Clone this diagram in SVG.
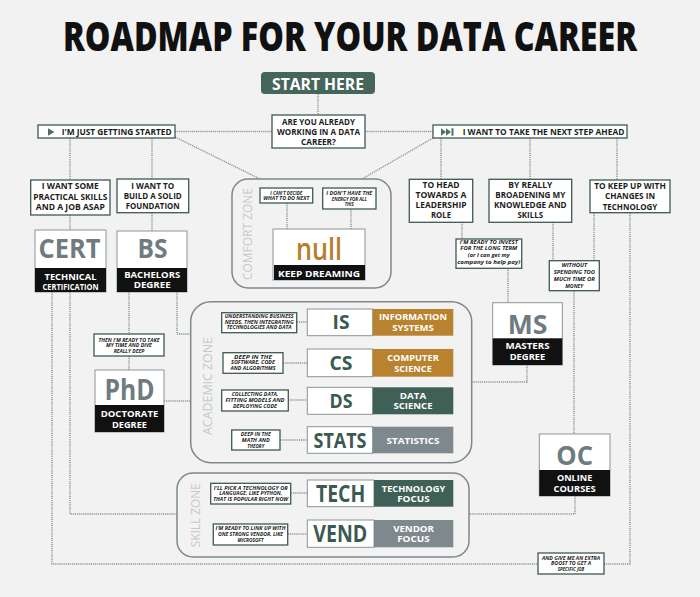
<svg xmlns="http://www.w3.org/2000/svg" width="700" height="597" viewBox="0 0 700 597">
<style>
.bg{fill:#f2f2f2}
.bx{fill:#fff;stroke:#3f5852;stroke-width:1.3}
.cb{fill:#fff;stroke:#8a9499;stroke-width:1}
.bar{fill:#111}
.t{font-family:"Open Sans","Liberation Sans",sans-serif;font-weight:700;font-size:9.5px;fill:#1c1c1c;text-anchor:middle}
.s{font-style:italic;font-size:5.5px}
.w{fill:#fff;font-size:9px}
.big{font-size:26px;fill:#6e7b81}
.acr{font-size:20px;fill:#3b5a52}
.ln{fill:none;stroke:#8d959a;stroke-width:1.4;stroke-dasharray:1.2 0.9}
.zone{fill:none;stroke:#7d888d;stroke-width:1.5}
.zt{font-family:"Open Sans","Liberation Sans",sans-serif;font-weight:400;font-size:12px;fill:#c6c9ca;text-anchor:middle}
.or{fill:#b9822e}.gr{fill:#3f6056}.gy{fill:#7e898e}
</style>
<rect class="bg" x="0" y="0" width="700" height="597"/>
<text class="t" x="350" y="51" style="font-size:40px;font-weight:800;fill:#111" textLength="574" lengthAdjust="spacingAndGlyphs">ROADMAP FOR YOUR DATA CAREER</text>

<g id="connectors">
<path class="ln" d="M318 94V115"/>
<path class="ln" d="M175 131.5H272"/>
<path class="ln" d="M365 131.5H433"/>
<path class="ln" d="M175 137L260 179"/>
<path class="ln" d="M433 138L362 179"/>
<path class="ln" d="M70 138V180"/>
<path class="ln" d="M152 138V179"/>
<path class="ln" d="M70 215V230"/>
<path class="ln" d="M152 213V231"/>
<path class="ln" d="M52 292V564H538"/>
<path class="ln" d="M70 292V514H177"/>
<path class="ln" d="M129 292V334"/>
<path class="ln" d="M129 356V370"/>
<path class="ln" d="M177 292V334H191"/>
<path class="ln" d="M164 401H191"/>
<path class="ln" d="M287 203V229"/>
<path class="ln" d="M351 209V229"/>
<path class="ln" d="M441 138V179"/>
<path class="ln" d="M530 138V179"/>
<path class="ln" d="M617 138V180"/>
<path class="ln" d="M462 222V239"/>
<path class="ln" d="M508 268V303"/>
<path class="ln" d="M527 365V382H472"/>
<path class="ln" d="M553 222V261"/>
<path class="ln" d="M594 213V261"/>
<path class="ln" d="M574 291V434"/>
<path class="ln" d="M630 213V564H604"/>
<path class="ln" d="M575 496V514H469"/>
<path class="ln" d="M297 322H307"/>
<path class="ln" d="M283 363H307"/>
<path class="ln" d="M288 400H307"/>
<path class="ln" d="M280 440H307"/>
<path class="ln" d="M291 493H307"/>
<path class="ln" d="M288 534H307"/>
</g>

<g id="start">
<rect x="261" y="72" width="114" height="22" rx="4" fill="#46655b"/>
<text class="t" x="318" y="89.5" style="font-size:16px;fill:#fff" textLength="92" lengthAdjust="spacingAndGlyphs">START HERE</text>
</g>
<g id="question">
<rect class="bx" x="272" y="115" width="93" height="33"/>
<text class="t" x="318.5" y="125.1" textLength="73" lengthAdjust="spacingAndGlyphs">ARE YOU ALREADY</text>
<text class="t" x="318.5" y="135.1" textLength="83" lengthAdjust="spacingAndGlyphs">WORKING IN A DATA</text>
<text class="t" x="318.5" y="145.1" textLength="35" lengthAdjust="spacingAndGlyphs">CAREER?</text>
</g>
<g id="started">
<rect class="bx" x="38" y="125" width="137" height="13"/>
<polygon points="48,128.3 54.5,132 48,135.7" fill="#4f6f65"/>
<text class="t" x="116.7" y="135.2" textLength="110" lengthAdjust="spacingAndGlyphs">I'M JUST GETTING STARTED</text>
</g>
<g id="nextstep">
<rect class="bx" x="433" y="125" width="194" height="13"/>
<polygon points="441,128.3 446,132 441,135.7" fill="#4f6f65"/>
<polygon points="446,128.3 451,132 446,135.7" fill="#4f6f65"/>
<rect x="451.5" y="128.3" width="2" height="7.4" fill="#4f6f65"/>
<text class="t" x="543.5" y="135.2" textLength="161.7" lengthAdjust="spacingAndGlyphs">I WANT TO TAKE THE NEXT STEP AHEAD</text>
</g>
<g id="practical">
<rect class="bx" x="30.7" y="180" width="79.3" height="35"/>
<text class="t" x="70.3" y="189.4" textLength="57" lengthAdjust="spacingAndGlyphs">I WANT SOME</text>
<text class="t" x="70.3" y="200" textLength="74" lengthAdjust="spacingAndGlyphs">PRACTICAL SKILLS</text>
<text class="t" x="70.3" y="210" textLength="69" lengthAdjust="spacingAndGlyphs">AND A JOB ASAP</text>
</g>
<g id="foundation">
<rect class="bx" x="117" y="179" width="71.7" height="33.7"/>
<text class="t" x="152.7" y="189.4" textLength="43" lengthAdjust="spacingAndGlyphs">I WANT TO</text>
<text class="t" x="152.7" y="199.4" textLength="58" lengthAdjust="spacingAndGlyphs">BUILD A SOLID</text>
<text class="t" x="152.7" y="209.4" textLength="54" lengthAdjust="spacingAndGlyphs">FOUNDATION</text>
</g>
<g id="cert">
<rect class="cb" x="35" y="230" width="71" height="62"/>
<rect class="bar" x="35" y="268" width="71" height="24"/>
<text class="t big" x="69.5" y="258" textLength="62" lengthAdjust="spacingAndGlyphs">CERT</text>
<text class="t w" x="70.5" y="280" textLength="52" lengthAdjust="spacingAndGlyphs">TECHNICAL</text>
<text class="t w" x="70.5" y="289.5" style="font-size:8px" textLength="56" lengthAdjust="spacingAndGlyphs">CERTIFICATION</text>
</g>
<g id="bs">
<rect class="cb" x="117" y="231" width="70" height="61"/>
<rect class="bar" x="117" y="268" width="70" height="24"/>
<text class="t big" x="152.5" y="258" textLength="30" lengthAdjust="spacingAndGlyphs">BS</text>
<text class="t w" x="152.2" y="277.5" textLength="56" lengthAdjust="spacingAndGlyphs">BACHELORS</text>
<text class="t w" x="152.2" y="288.2" textLength="37" lengthAdjust="spacingAndGlyphs">DEGREE</text>
</g>
<g id="comfortzone">
<rect class="zone" x="232" y="179" width="159" height="109" rx="16"/>
<text class="zt" transform="translate(252,234) rotate(-90)" textLength="92" lengthAdjust="spacingAndGlyphs">COMFORT ZONE</text>
</g>
<g id="cantdecide">
<rect class="bx" x="260" y="188" width="52.7" height="15"/>
<text class="t s" x="286.3" y="194.7" textLength="32" lengthAdjust="spacingAndGlyphs">I CAN'T DECIDE</text>
<text class="t s" x="286.3" y="199.9" textLength="46" lengthAdjust="spacingAndGlyphs">WHAT TO DO NEXT</text>
</g>
<g id="noenergy">
<rect class="bx" x="322.7" y="188" width="53.3" height="21"/>
<text class="t s" x="349.3" y="195.2" textLength="46" lengthAdjust="spacingAndGlyphs">I DON'T HAVE THE</text>
<text class="t s" x="349.3" y="200.5" textLength="35" lengthAdjust="spacingAndGlyphs">ENERGY FOR ALL</text>
<text class="t s" x="349.3" y="206" textLength="9" lengthAdjust="spacingAndGlyphs">THIS</text>
</g>
<g id="null">
<rect class="cb" x="273" y="229" width="92" height="51"/>
<rect class="bar" x="274" y="265" width="91" height="15"/>
<text class="t" x="319" y="260" style="font-size:30px;font-weight:600;fill:#b67d2b" textLength="46" lengthAdjust="spacingAndGlyphs">null</text>
<text class="t w" x="319" y="276.7" style="font-size:9.5px" textLength="82" lengthAdjust="spacingAndGlyphs">KEEP DREAMING</text>
</g>
<g id="thendeep">
<rect class="bx" x="94" y="334" width="70" height="22"/>
<text class="t s" x="129" y="342" textLength="61" lengthAdjust="spacingAndGlyphs">THEN I'M READY TO TAKE</text>
<text class="t s" x="129" y="347.4" textLength="46" lengthAdjust="spacingAndGlyphs">MY TIME AND DIVE</text>
<text class="t s" x="129" y="353" textLength="30.7" lengthAdjust="spacingAndGlyphs">REALLY DEEP</text>
</g>
<g id="phd">
<rect class="cb" x="95" y="370" width="69" height="62"/>
<rect class="bar" x="95" y="405" width="69" height="27"/>
<text class="t big" x="129.5" y="400" style="font-size:28px" textLength="50" lengthAdjust="spacingAndGlyphs">PhD</text>
<text class="t w" x="129.5" y="416.5" textLength="57.7" lengthAdjust="spacingAndGlyphs">DOCTORATE</text>
<text class="t w" x="129.5" y="427.5" textLength="35" lengthAdjust="spacingAndGlyphs">DEGREE</text>
</g>
<g id="academiczone">
<rect class="zone" x="190.7" y="301.7" width="281" height="161" rx="20"/>
<text class="zt" transform="translate(211.5,386) rotate(-90)" textLength="98" lengthAdjust="spacingAndGlyphs">ACADEMIC ZONE</text>
</g>
<g id="is">
<rect class="bx" x="221.7" y="312.7" width="75" height="20"/>
<text class="t s" x="259.2" y="318" textLength="69" lengthAdjust="spacingAndGlyphs">UNDERSTANDING BUSINESS</text>
<text class="t s" x="259.2" y="323.7" textLength="69" lengthAdjust="spacingAndGlyphs">NEEDS, THEN INTEGRATING</text>
<text class="t s" x="259.2" y="329.3" textLength="65" lengthAdjust="spacingAndGlyphs">TECHNOLOGIES AND DATA</text>
<rect class="cb" x="307.3" y="309" width="65.4" height="26.7"/>
<rect class="or" x="372.7" y="309" width="80.6" height="26.7"/>
<text class="t acr" x="341" y="329.3" textLength="17" lengthAdjust="spacingAndGlyphs">IS</text>
<text class="t w" x="413" y="319.9" textLength="68" lengthAdjust="spacingAndGlyphs">INFORMATION</text>
<text class="t w" x="413" y="330.9" textLength="41.7" lengthAdjust="spacingAndGlyphs">SYSTEMS</text>
</g>
<g id="cs">
<rect class="bx" x="223" y="352.7" width="60" height="20.6"/>
<text class="t s" x="253" y="358.7" textLength="38" lengthAdjust="spacingAndGlyphs">DEEP IN THE</text>
<text class="t s" x="253" y="364.3" textLength="44" lengthAdjust="spacingAndGlyphs">SOFTWARE, CODE</text>
<text class="t s" x="253" y="370" textLength="45" lengthAdjust="spacingAndGlyphs">AND ALGORITHMS</text>
<rect class="cb" x="307.3" y="349" width="65.4" height="27.7"/>
<rect class="or" x="372.7" y="349" width="80.6" height="27.7"/>
<text class="t acr" x="341" y="370" textLength="23" lengthAdjust="spacingAndGlyphs">CS</text>
<text class="t w" x="413" y="360.9" textLength="51.7" lengthAdjust="spacingAndGlyphs">COMPUTER</text>
<text class="t w" x="413" y="371.9" textLength="37.7" lengthAdjust="spacingAndGlyphs">SCIENCE</text>
</g>
<g id="ds">
<rect class="bx" x="221.7" y="390" width="66.6" height="21"/>
<text class="t s" x="255" y="396.3" textLength="46.7" lengthAdjust="spacingAndGlyphs">COLLECTING DATA,</text>
<text class="t s" x="255" y="402" textLength="59" lengthAdjust="spacingAndGlyphs">FITTING MODELS AND</text>
<text class="t s" x="255" y="407.7" textLength="44" lengthAdjust="spacingAndGlyphs">DEPLOYING CODE</text>
<rect class="cb" x="307.3" y="387.3" width="65.4" height="27"/>
<rect class="gr" x="372.7" y="387.3" width="80.6" height="27"/>
<text class="t acr" x="341" y="408.3" textLength="23" lengthAdjust="spacingAndGlyphs">DS</text>
<text class="t w" x="413" y="398.5" textLength="26.4" lengthAdjust="spacingAndGlyphs">DATA</text>
<text class="t w" x="413" y="409.2" textLength="39" lengthAdjust="spacingAndGlyphs">SCIENCE</text>
</g>
<g id="stats">
<rect class="bx" x="231.7" y="430" width="48.3" height="20"/>
<text class="t s" x="255.8" y="436.3" textLength="30" lengthAdjust="spacingAndGlyphs">DEEP IN THE</text>
<text class="t s" x="255.8" y="442" textLength="28" lengthAdjust="spacingAndGlyphs">MATH AND</text>
<text class="t s" x="255.8" y="447.7" textLength="17" lengthAdjust="spacingAndGlyphs">THEORY</text>
<rect class="cb" x="307.3" y="426.7" width="65.4" height="26.6"/>
<rect class="gy" x="372.7" y="426.7" width="80.6" height="26.6"/>
<text class="t acr" x="340" y="448.3" style="font-size:21px" textLength="53" lengthAdjust="spacingAndGlyphs">STATS</text>
<text class="t w" x="413" y="443.9" textLength="53" lengthAdjust="spacingAndGlyphs">STATISTICS</text>
</g>
<g id="skillzone">
<rect class="zone" x="177" y="473" width="292" height="84" rx="16"/>
<text class="zt" transform="translate(199.5,515.3) rotate(-90)" textLength="64" lengthAdjust="spacingAndGlyphs">SKILL ZONE</text>
</g>
<g id="tech">
<rect class="bx" x="210.7" y="483.3" width="80" height="20.7"/>
<text class="t s" x="250.7" y="489.7" textLength="74" lengthAdjust="spacingAndGlyphs">I'LL PICK A TECHNOLOGY OR</text>
<text class="t s" x="250.7" y="495.3" textLength="63" lengthAdjust="spacingAndGlyphs">LANGUAGE, LIKE PYTHON,</text>
<text class="t s" x="250.7" y="501.2" textLength="75" lengthAdjust="spacingAndGlyphs">THAT IS POPULAR RIGHT NOW</text>
<rect class="cb" x="307.3" y="480" width="66.7" height="26.7"/>
<rect class="gr" x="374" y="480" width="79.3" height="26.7"/>
<text class="t acr" x="340.6" y="501.7" style="font-size:23px" textLength="49.3" lengthAdjust="spacingAndGlyphs">TECH</text>
<text class="t w" x="413.5" y="491.5" textLength="63.3" lengthAdjust="spacingAndGlyphs">TECHNOLOGY</text>
<text class="t w" x="413.5" y="502.2" textLength="32.6" lengthAdjust="spacingAndGlyphs">FOCUS</text>
</g>
<g id="vend">
<rect class="bx" x="213.3" y="524" width="74.4" height="21"/>
<text class="t s" x="250.5" y="530.3" textLength="70" lengthAdjust="spacingAndGlyphs">I'M READY TO LINK UP WITH</text>
<text class="t s" x="250.5" y="536" textLength="65" lengthAdjust="spacingAndGlyphs">ONE STRONG VENDOR, LIKE</text>
<text class="t s" x="250.5" y="541.7" textLength="26" lengthAdjust="spacingAndGlyphs">MICROSOFT</text>
<rect class="cb" x="307.3" y="520" width="66.7" height="27.3"/>
<rect class="gy" x="374" y="520" width="79.3" height="27.3"/>
<text class="t acr" x="340.3" y="541.7" style="font-size:23px" textLength="54" lengthAdjust="spacingAndGlyphs">VEND</text>
<text class="t w" x="413.5" y="531.5" textLength="40.7" lengthAdjust="spacingAndGlyphs">VENDOR</text>
<text class="t w" x="413.5" y="542.2" textLength="32.6" lengthAdjust="spacingAndGlyphs">FOCUS</text>
</g>
<g id="leadership">
<rect class="bx" x="409.3" y="179.3" width="63.4" height="43"/>
<text class="t" x="441" y="188.4" textLength="37" lengthAdjust="spacingAndGlyphs">TO HEAD</text>
<text class="t" x="441" y="198.4" textLength="51" lengthAdjust="spacingAndGlyphs">TOWARDS A</text>
<text class="t" x="441" y="208.4" textLength="51" lengthAdjust="spacingAndGlyphs">LEADERSHIP</text>
<text class="t" x="441" y="218.4" textLength="20" lengthAdjust="spacingAndGlyphs">ROLE</text>
</g>
<g id="broadening">
<rect class="bx" x="489" y="179.3" width="82.7" height="43"/>
<text class="t" x="530.3" y="188.4" textLength="44" lengthAdjust="spacingAndGlyphs">BY REALLY</text>
<text class="t" x="530.3" y="198.4" textLength="70" lengthAdjust="spacingAndGlyphs">BROADENING MY</text>
<text class="t" x="530.3" y="208.4" textLength="72.7" lengthAdjust="spacingAndGlyphs">KNOWLEDGE AND</text>
<text class="t" x="530.3" y="218.4" textLength="25.7" lengthAdjust="spacingAndGlyphs">SKILLS</text>
</g>
<g id="keepup">
<rect class="bx" x="590" y="180" width="80" height="32.7"/>
<text class="t" x="630" y="189.4" textLength="71.7" lengthAdjust="spacingAndGlyphs">TO KEEP UP WITH</text>
<text class="t" x="630" y="199.4" textLength="50" lengthAdjust="spacingAndGlyphs">CHANGES IN</text>
<text class="t" x="630" y="210" textLength="54.7" lengthAdjust="spacingAndGlyphs">TECHNOLOGY</text>
</g>
<g id="invest">
<rect class="bx" x="456" y="239" width="65.7" height="29.3"/>
<text class="t s" x="488.8" y="243.7" textLength="58" lengthAdjust="spacingAndGlyphs">I'M READY TO INVEST</text>
<text class="t s" x="488.8" y="250.3" textLength="57" lengthAdjust="spacingAndGlyphs">FOR THE LONG TERM</text>
<text class="t s" x="488.8" y="257" textLength="42" lengthAdjust="spacingAndGlyphs">(or I can get my</text>
<text class="t s" x="488.8" y="263.7" textLength="63" lengthAdjust="spacingAndGlyphs">company to help pay)</text>
</g>
<g id="without">
<rect class="bx" x="549.3" y="260.7" width="50" height="30"/>
<text class="t s" x="574.3" y="267" textLength="25.7" lengthAdjust="spacingAndGlyphs">WITHOUT</text>
<text class="t s" x="574.3" y="274" textLength="41.3" lengthAdjust="spacingAndGlyphs">SPENDING TOO</text>
<text class="t s" x="574.3" y="281" textLength="41" lengthAdjust="spacingAndGlyphs">MUCH TIME OR</text>
<text class="t s" x="574.3" y="288" textLength="18" lengthAdjust="spacingAndGlyphs">MONEY</text>
</g>
<g id="ms">
<rect class="cb" x="492.7" y="302.7" width="69.6" height="62.3"/>
<rect class="bar" x="492.7" y="338.3" width="69.6" height="26.7"/>
<text class="t big" x="527.5" y="334" textLength="39.7" lengthAdjust="spacingAndGlyphs">MS</text>
<text class="t w" x="527.5" y="349.2" textLength="44" lengthAdjust="spacingAndGlyphs">MASTERS</text>
<text class="t w" x="527.5" y="359.9" textLength="35.7" lengthAdjust="spacingAndGlyphs">DEGREE</text>
</g>
<g id="oc">
<rect class="cb" x="539.3" y="434" width="70.7" height="62"/>
<rect class="bar" x="539.3" y="470" width="70.7" height="26"/>
<text class="t big" x="574.6" y="465" textLength="36.7" lengthAdjust="spacingAndGlyphs">OC</text>
<text class="t w" x="574.6" y="480.9" textLength="35.3" lengthAdjust="spacingAndGlyphs">ONLINE</text>
<text class="t w" x="574.6" y="491.5" textLength="42.3" lengthAdjust="spacingAndGlyphs">COURSES</text>
</g>
<g id="boost">
<rect class="bx" x="538" y="553" width="66" height="21"/>
<text class="t s" x="571" y="559.7" textLength="58" lengthAdjust="spacingAndGlyphs">AND GIVE ME AN EXTRA</text>
<text class="t s" x="571" y="565.3" textLength="40" lengthAdjust="spacingAndGlyphs">BOOST TO GET A</text>
<text class="t s" x="571" y="571" textLength="26.7" lengthAdjust="spacingAndGlyphs">SPECIFIC JOB</text>
</g>
</svg>
